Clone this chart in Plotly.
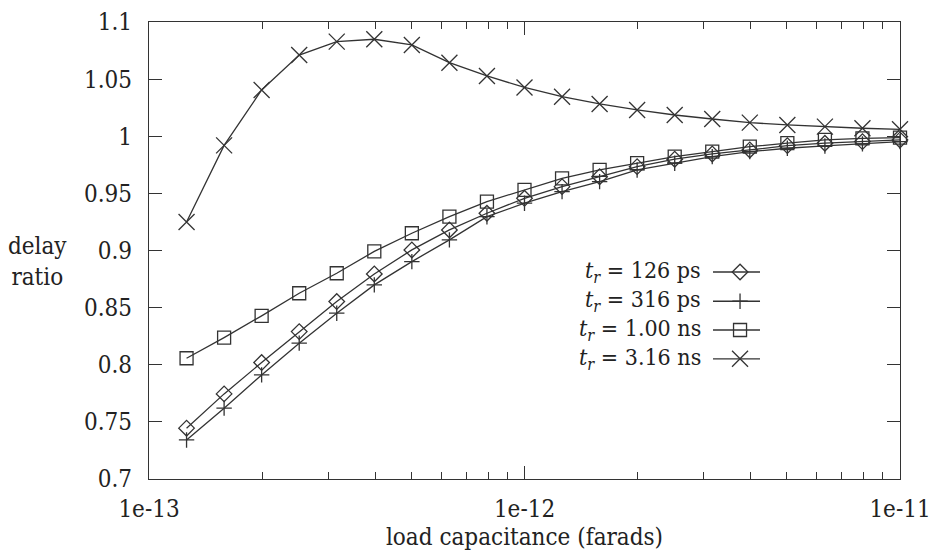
import plotly.graph_objects as go

# Load capacitance (farads), 10 points per decade
load_cap = [1.259e-13, 1.585e-13, 1.995e-13, 2.512e-13, 3.162e-13, 3.981e-13,
            5.012e-13, 6.310e-13, 7.943e-13, 1.0e-12, 1.259e-12, 1.585e-12,
            1.995e-12, 2.512e-12, 3.162e-12, 3.981e-12, 5.012e-12, 6.310e-12,
            7.943e-12, 1.0e-11]

ratio_126ps = [0.7445, 0.7745, 0.8019, 0.8290, 0.8553, 0.8795, 0.9005, 0.9180,
               0.9326, 0.9457, 0.9559, 0.9646, 0.9734, 0.9799, 0.9845, 0.9880,
               0.9918, 0.9939, 0.9953, 0.9968]
ratio_316ps = [0.7342, 0.7620, 0.7911, 0.8189, 0.8451, 0.8699, 0.8903, 0.9093,
               0.9296, 0.9414, 0.9515, 0.9603, 0.9705, 0.9764, 0.9822, 0.9865,
               0.9895, 0.9915, 0.9933, 0.9953]
ratio_1ns = [0.8057, 0.8238, 0.8428, 0.8626, 0.8801, 0.8992, 0.9151, 0.9296,
             0.9428, 0.9530, 0.9632, 0.9705, 0.9764, 0.9822, 0.9865, 0.9909,
             0.9939, 0.9968, 0.9982, 0.9988]
ratio_316ns = [0.925, 0.992, 1.0405, 1.0711, 1.0828, 1.0849, 1.0799, 1.0644,
               1.0528, 1.0427, 1.0346, 1.0283, 1.0230, 1.0186, 1.0151, 1.0119,
               1.0099, 1.0084, 1.0070, 1.0061]

series_labels = ["<i>t<sub>r</sub></i> = 126 ps", "<i>t<sub>r</sub></i> = 316 ps",
                 "<i>t<sub>r</sub></i> = 1.00 ns", "<i>t<sub>r</sub></i> = 3.16 ns"]
series_values = [ratio_126ps, ratio_316ps, ratio_1ns, ratio_316ns]
series_symbols = ["diamond-open", "cross-thin", "square-open", "x-thin"]
series_sizes = [12, 11, 13, 16]

x_major = [1e-13, 1e-12, 1e-11]
x_major_text = ["1e-13", "1e-12", "1e-11"]
x_minor = [2e-13, 3e-13, 4e-13, 5e-13, 6e-13, 7e-13, 8e-13, 9e-13,
           2e-12, 3e-12, 4e-12, 5e-12, 6e-12, 7e-12, 8e-12, 9e-12]
y_ticks = [0.7, 0.75, 0.8, 0.85, 0.9, 0.95, 1.0, 1.05, 1.1]
y_tick_text = ["0.7", "0.75", "0.8", "0.85", "0.9", "0.95", "1", "1.05", "1.1"]

INK = "#333333"
FONT = "DejaVu Serif Condensed, DejaVu Serif"
FS = 24
LEG_FS = 23
TXT = "#222222"

fig = go.Figure()
for vals, sym, sz in zip(series_values, series_symbols, series_sizes):
    fig.add_trace(go.Scatter(
        x=load_cap, y=vals, mode="lines+markers",
        line=dict(color=INK, width=1.3),
        marker=dict(symbol=sym, size=sz, color=INK,
                    line=dict(color=INK, width=1.3)),
        showlegend=False, cliponaxis=False))

leg_rows = [0.453, 0.389, 0.326, 0.263]
leg_line_x = [0.751, 0.8136]
leg_mark_x = 0.787
for lab, sym, sz, ry in zip(series_labels, series_symbols, series_sizes, leg_rows):
    fig.add_trace(go.Scatter(
        x=leg_line_x, y=[ry, ry], mode="lines", xaxis="x2", yaxis="y2",
        line=dict(color=INK, width=1.3), showlegend=False, hoverinfo="skip"))
    fig.add_trace(go.Scatter(
        x=[leg_mark_x], y=[ry], mode="markers", xaxis="x2", yaxis="y2",
        marker=dict(symbol=sym, size=sz, color=INK,
                    line=dict(color=INK, width=1.3)),
        showlegend=False, hoverinfo="skip"))
    fig.add_annotation(x=0.7377, y=ry, xref="x2", yref="y2", text=lab,
                       showarrow=False, xanchor="right", yanchor="middle",
                       font=dict(family=FONT, size=LEG_FS, color=TXT))

fig.add_annotation(x=-0.148, y=0.477, xref="paper", yref="paper",
                   text="delay<br>ratio", showarrow=False,
                   xanchor="center", yanchor="middle", align="center",
                   font=dict(family=FONT, size=FS, color=TXT))

fig.update_layout(
    width=934, height=551,
    margin=dict(l=149, r=34, t=22, b=72),
    paper_bgcolor="white", plot_bgcolor="white",
    font=dict(family=FONT, size=FS, color=TXT),
    xaxis=dict(type="log", range=[-13, -11], tickmode="array",
               tickvals=x_major, ticktext=x_major_text, automargin=False,
               tickfont=dict(family=FONT, size=FS, color=TXT),
               ticks="inside", ticklen=13, tickwidth=1.2, tickcolor=INK,
               showline=True, linecolor=INK, linewidth=1.3, mirror="ticks",
               showgrid=False, zeroline=False, ticklabelstandoff=8,
               minor=dict(tickmode="array", tickvals=x_minor, ticks="inside",
                          ticklen=7, tickwidth=1.2, tickcolor=INK, showgrid=False),
               title=dict(text="load capacitance (farads)", standoff=5,
                          font=dict(family=FONT, size=FS, color=TXT))),
    yaxis=dict(range=[0.7, 1.1], tickmode="array", tickvals=y_ticks,
               ticktext=y_tick_text, automargin=False,
               tickfont=dict(family=FONT, size=FS, color=TXT),
               ticks="inside", ticklen=13, tickwidth=1.2,
               tickcolor=INK, showline=True, linecolor=INK, linewidth=1.3,
               mirror="ticks", showgrid=False, zeroline=False,
               ticklabelstandoff=11),
    xaxis2=dict(domain=[0, 1], range=[0, 1], overlaying="x", visible=False),
    yaxis2=dict(domain=[0, 1], range=[0, 1], overlaying="y", visible=False),
)

fig.write_html("out.html")
